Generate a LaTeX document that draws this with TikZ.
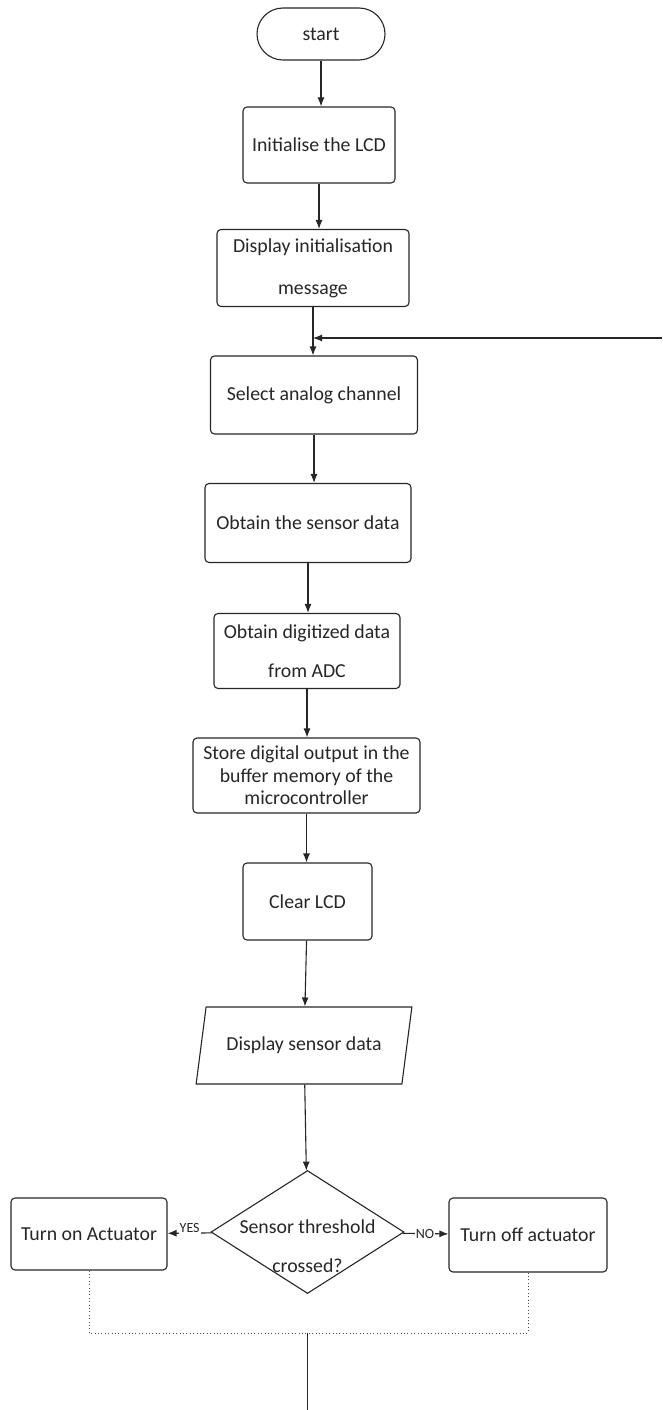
\documentclass[tikz,border=0pt]{standalone}
\usepackage{fontspec}
\setmainfont{Carlito}
\usetikzlibrary{shapes.geometric,arrows.meta}

\begin{document}
\begin{tikzpicture}[x=1pt, y=-1pt, color=black!85, line width=1.1pt,
		>={Latex[length=9pt,width=7pt]},
		every node/.style={font=\fontsize{19.8}{24}\selectfont, text=black!85},
		box/.style={draw, rounded corners=4pt, align=center, inner sep=0pt},
		term/.style={draw, rounded corners=26pt, inner sep=0pt},
		io/.style={draw, trapezium, trapezium left angle=65, trapezium right angle=115,
			trapezium stretches=true, inner sep=0pt},
		decision/.style={draw, diamond, inner sep=0pt},
		yesno/.style={font=\fontsize{14}{16}\selectfont, fill=white, inner sep=1pt},
		joinline/.style={draw=black!70, line width=1pt, dash pattern=on 1pt off 2.4pt}]
		\useasboundingbox (0,0) rectangle (662,1410);
		
		\node[term, minimum width=128pt, minimum height=52pt] (start) at (321,34) {start};
		\node[box, minimum width=152pt, minimum height=76pt] (init) at (319,145) {Initialise the LCD};
		\node[box, minimum width=192pt, minimum height=77pt] (msg) at (313,268) {Display initialisation\\[18pt]message};
		\node[box, minimum width=207pt, minimum height=78pt] (channel) at (314,395) {Select analog channel};
		\node[box, minimum width=206pt, minimum height=79pt] (sensor) at (308,523) {Obtain the sensor data};
		\node[box, minimum width=186pt, minimum height=75pt] (adc) at (307,651) {Obtain digitized data\\[15pt]from ADC};
		\node[box, minimum width=227pt, minimum height=75pt] (store) at (306.5,775.5) {Store digital output in the\\[-1.5pt]buffer memory of the\\[-1.5pt]microcontroller};
		\node[box, minimum width=129pt, minimum height=77pt] (clear) at (307.5,901.5) {Clear LCD};
		\node[io, minimum width=216pt, minimum height=77pt] (show) at (304,1045.5) {Display sensor data};
		
		\node[decision, minimum width=193pt, minimum height=123pt] (check) at (307.5,1232) {};
		\node[align=center] (checktext) at (307.5,1246) {Sensor threshold\\[15pt]crossed?};
		\node[box, minimum width=156pt, minimum height=72pt] (on) at (89,1234) {Turn on Actuator};
		\node[box, minimum width=158pt, minimum height=74pt] (off) at (528,1235) {Turn off actuator};
		
		\coordinate (back) at (662,338);
		\coordinate (merge) at (307.5,1333);
		\coordinate (out) at (307.5,1410);
		
		\draw[->] (start) -- (start |- init.north);
		\draw[->] (init) -- (init |- msg.north);
		\draw[->] (msg) -- (msg |- channel.north);
		\draw[->] (back) -- (msg |- back);
		\draw[->] (channel) -- (channel |- sensor.north);
		\draw[->] (sensor) -- (sensor |- adc.north);
		\draw[->] (adc) -- (adc |- store.north);
		\draw[->] (store) -- (store |- clear.north);
		\draw[->] (clear) -- (show);
		\draw[->] (show) -- (check);
		
		\draw[->] (check) -- (on) node[yesno, pos=0.5, yshift=5pt] {YES};
		\draw[->] (check) -- (off) node[yesno, pos=0.49] {NO};
		
		\draw[joinline] (on) -- (on |- merge) -- (off |- merge) -- (off);
		\draw (merge) -- (out);
	\end{tikzpicture}
\end{document}
